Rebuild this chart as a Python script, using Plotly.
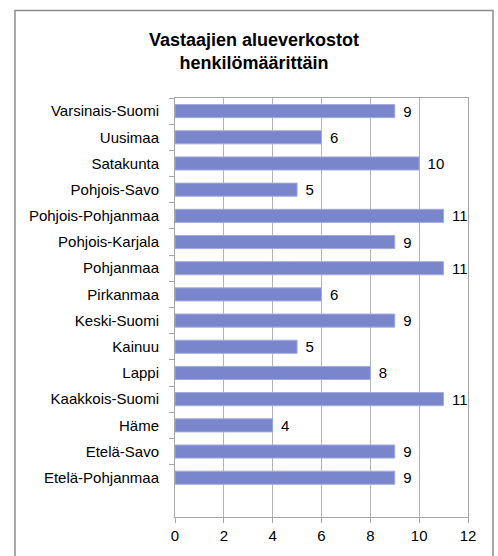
import plotly.graph_objects as go

categories = ["Varsinais-Suomi", "Uusimaa", "Satakunta", "Pohjois-Savo",
              "Pohjois-Pohjanmaa", "Pohjois-Karjala", "Pohjanmaa", "Pirkanmaa",
              "Keski-Suomi", "Kainuu", "Lappi", "Kaakkois-Suomi", "Häme",
              "Etelä-Savo", "Etelä-Pohjanmaa"]
values = [9, 6, 10, 5, 11, 9, 11, 6, 9, 5, 8, 11, 4, 9, 9]
x_ticks = [0, 2, 4, 6, 8, 10, 12]
title_text = "Vastaajien alueverkostot<br>henkilömäärittäin"

FONT = "Liberation Sans, Arial, sans-serif"

W, H = 498, 556
L, R, T, B = 175, 468, 98, 519
pw, ph = R - L, B - T

def px_x(p):
    return (p - L) / pw

def px_y(p):
    return (B - p) / ph

fig = go.Figure(go.Bar(
    x=values, y=categories, orientation="h",
    marker=dict(color="#7986CB", line=dict(color="#A3ABDD", width=1)),
    texttemplate="\u00a0\u200a%{x}", textposition="outside", cliponaxis=False,
    constraintext="none",
    textfont=dict(size=15, color="#000", family=FONT),
))

fig.update_layout(
    width=W, height=H,
    margin=dict(l=L, r=W - R, t=T, b=H - B, pad=0),
    paper_bgcolor="white", plot_bgcolor="white",
    font=dict(family=FONT, size=15, color="#000"),
    bargap=0.5,
    showlegend=False,
    title=dict(text="<b>" + title_text + "</b>", xref="container", yref="container",
               x=254 / W, xanchor="center", y=1 - 46 / H, yanchor="top",
               font=dict(size=18, family=FONT, color="#000")),
    xaxis=dict(range=[0, 12], tickmode="array", tickvals=x_ticks, showgrid=True,
               gridcolor="#B4B4B4", gridwidth=1, showline=True, linecolor="#A6A6A6",
               mirror=True, ticks="outside", ticklen=5, tickcolor="#A6A6A6",
               zeroline=False, tickfont=dict(size=15), fixedrange=True),
    yaxis=dict(categoryorder="array", categoryarray=categories,
               range=[15.5, -0.5], tickson="boundaries", ticks="outside", ticklen=5,
               tickcolor="#A6A6A6", showline=True, linecolor="#A6A6A6", mirror=True,
               showgrid=False, tickfont=dict(size=15), ticklabelstandoff=12,
               fixedrange=True),
    shapes=[dict(type="rect", xref="paper", yref="paper",
                 x0=px_x(15), x1=px_x(493), y0=px_y(600), y1=px_y(10),
                 line=dict(color="#8C8C8C", width=1.5), fillcolor="rgba(0,0,0,0)",
                 layer="above")],
)

fig.write_html(
    "out.html",
    config={"displayModeBar": False, "staticPlot": True},
    post_script="document.body.style.margin='0';document.body.style.overflow='hidden';"
                "document.documentElement.style.overflow='hidden';",
)
